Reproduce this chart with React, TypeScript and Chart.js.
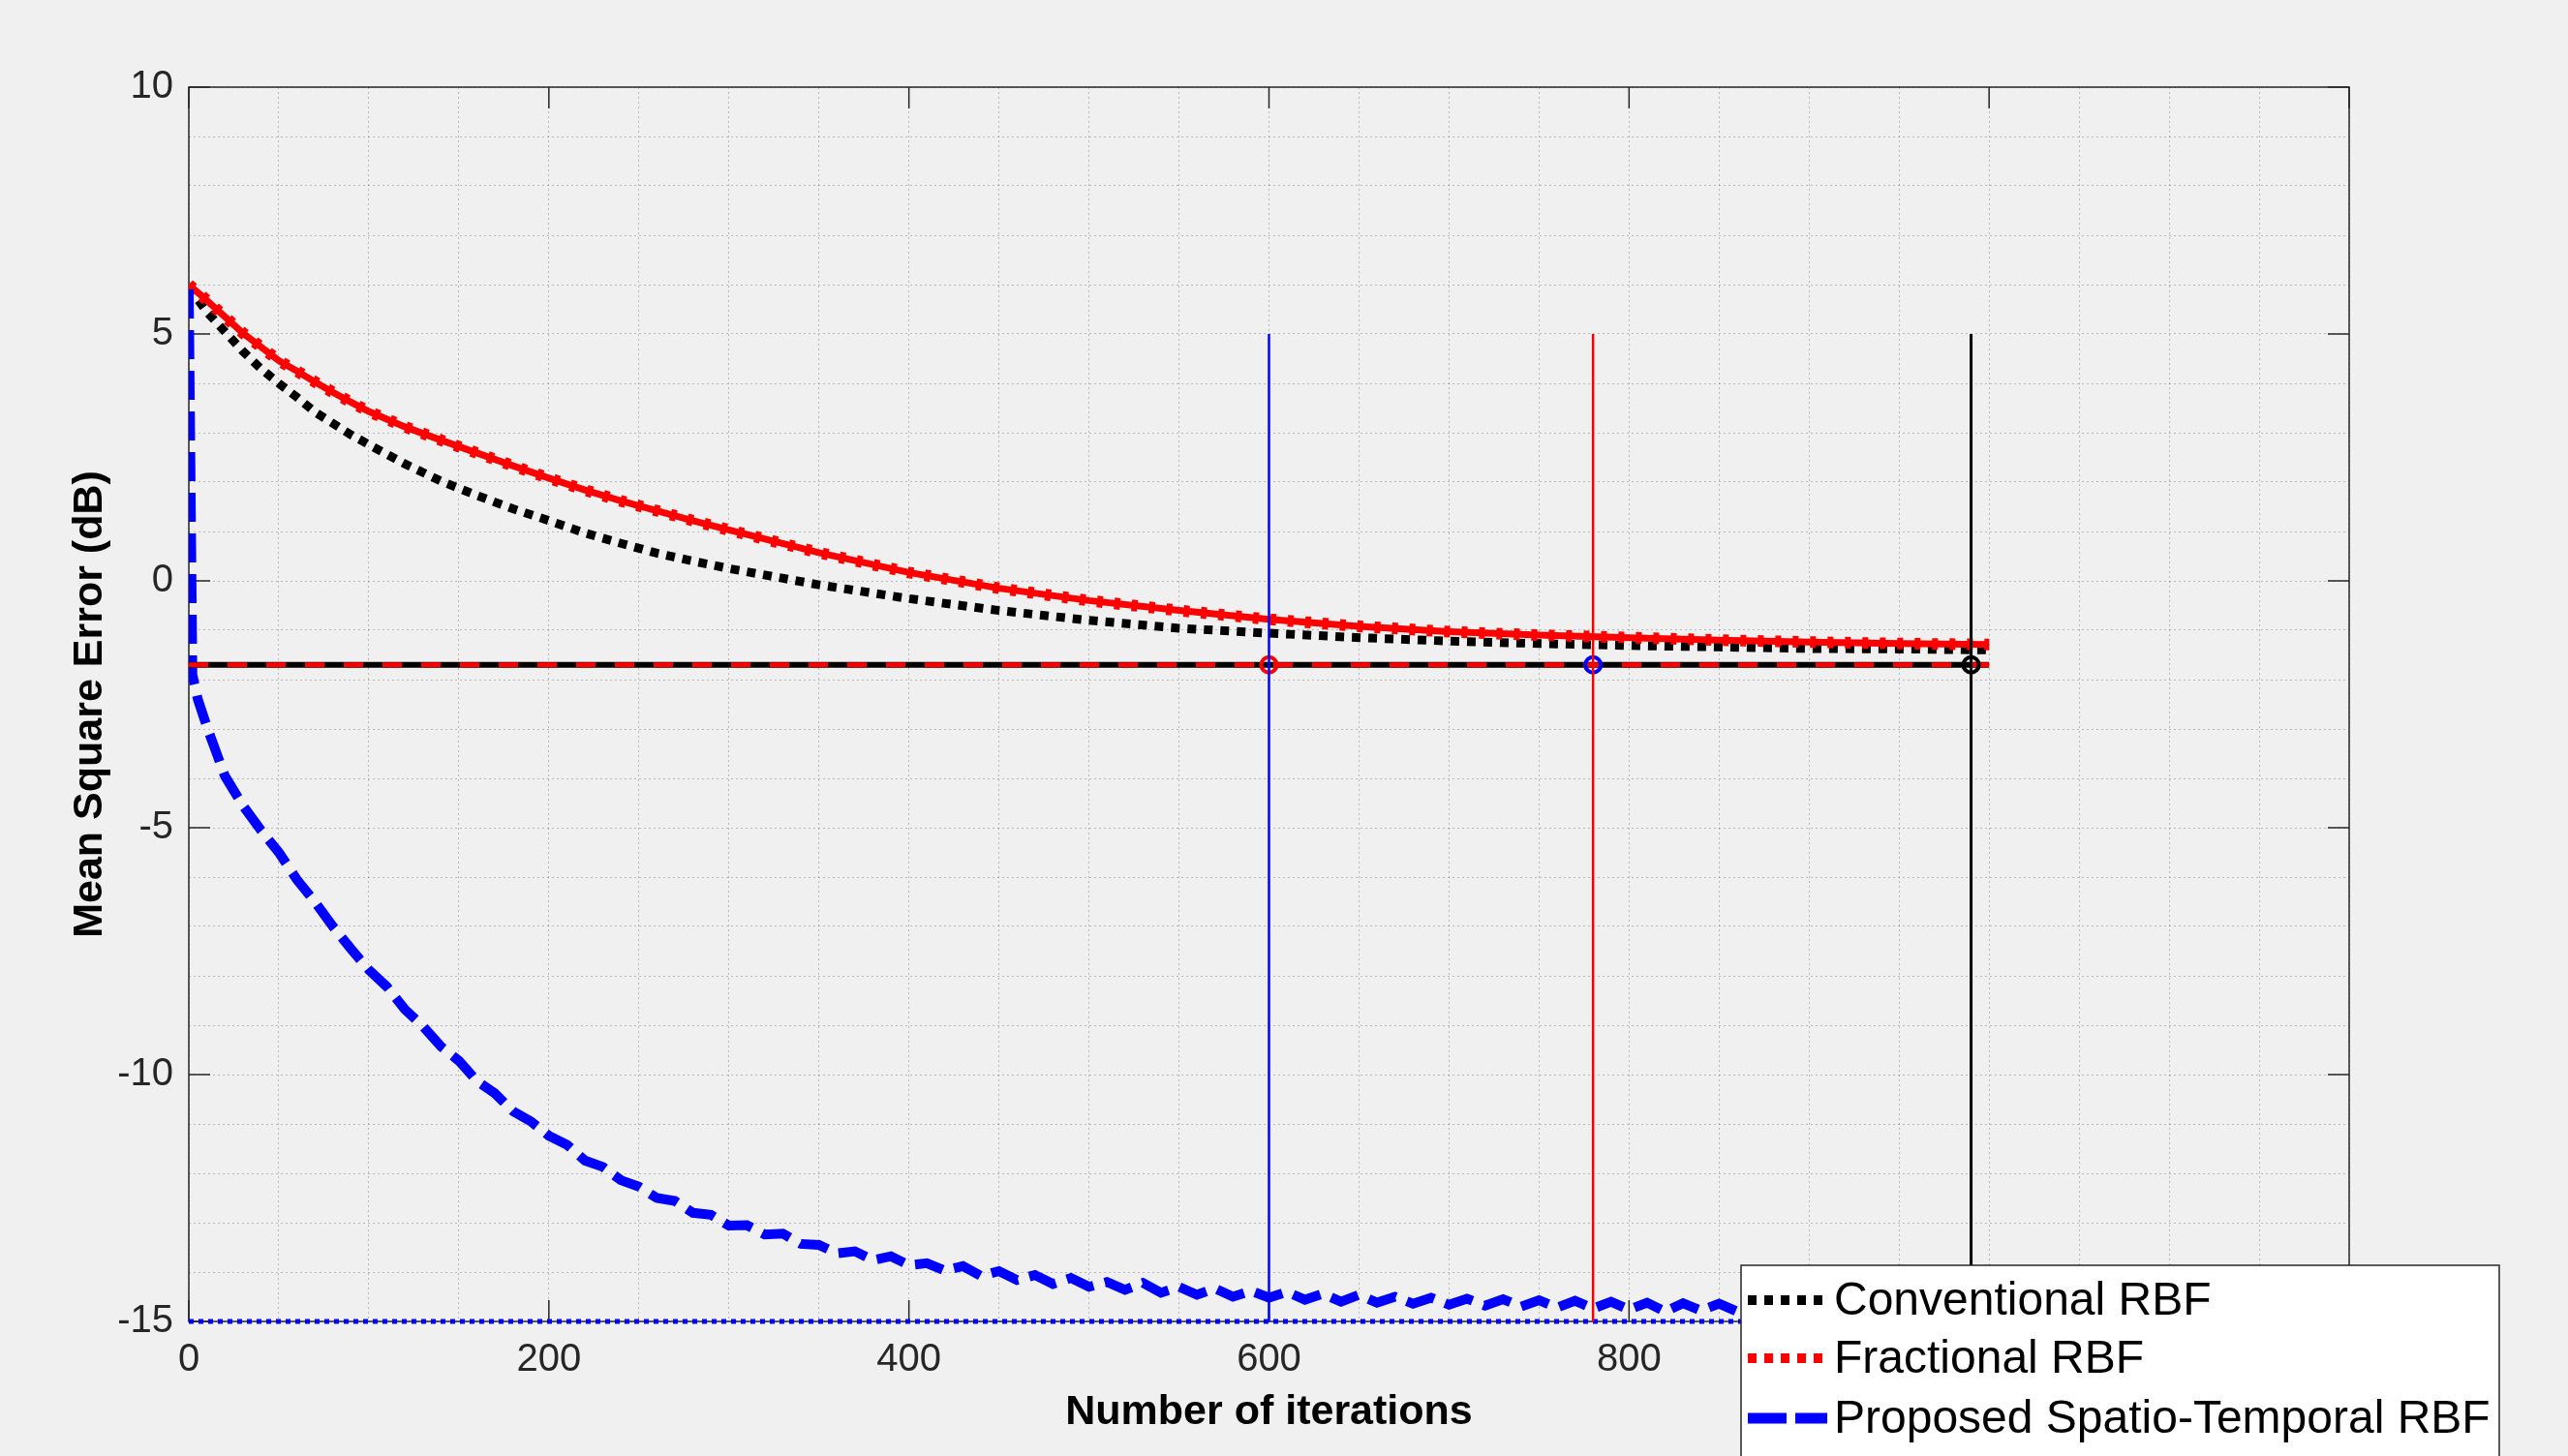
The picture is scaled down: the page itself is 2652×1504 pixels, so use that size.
import React, { useEffect, useRef } from "react";
import { Chart, registerables } from "chart.js";

Chart.register(...registerables);

// ---------------- data ----------------
const seriesLabels = ["Conventional RBF", "Fractional RBF", "Proposed Spatio-Temporal RBF"];

const convX = [0, 10, 20, 30, 40, 50, 60, 70, 80, 90, 100, 120, 140, 160, 180, 200, 220, 240, 260, 280, 300, 350, 400, 450, 500, 550, 600, 650, 700, 750, 800, 850, 900, 950, 1000];
const convY = [5.95, 5.45, 5.05, 4.65, 4.3, 4.0, 3.72, 3.42, 3.19, 2.96, 2.76, 2.37, 2.02, 1.73, 1.46, 1.22, 0.97, 0.76, 0.56, 0.4, 0.25, -0.08, -0.36, -0.6, -0.8, -0.96, -1.06, -1.15, -1.22, -1.27, -1.31, -1.34, -1.37, -1.38, -1.4];

const fracX = [0, 10, 20, 30, 40, 50, 60, 70, 80, 90, 100, 120, 140, 160, 180, 200, 220, 240, 260, 280, 300, 350, 400, 450, 500, 550, 600, 650, 700, 750, 800, 850, 900, 950, 1000];
const fracY = [6.0, 5.68, 5.35, 5.02, 4.74, 4.46, 4.25, 4.03, 3.82, 3.62, 3.43, 3.12, 2.85, 2.59, 2.33, 2.08, 1.84, 1.62, 1.42, 1.22, 1.03, 0.57, 0.17, -0.15, -0.4, -0.6, -0.78, -0.92, -1.03, -1.1, -1.15, -1.2, -1.24, -1.27, -1.29];

const propX = [0, 1, 2, 5, 10, 20, 30, 40, 50, 60, 70, 80, 90, 100, 110, 120, 130, 140, 150, 160, 170, 180, 190, 200, 210, 220, 230, 240, 250, 260, 270, 280, 290, 300, 310, 320, 330, 340, 350, 360, 370, 380, 390, 400, 410, 420, 430, 440, 450, 460, 470, 480, 490, 500, 510, 520, 530, 540, 550, 560, 570, 580, 590, 600, 610, 620, 630, 640, 650, 660, 670, 680, 690, 700, 710, 720, 730, 740, 750, 760, 770, 780, 790, 800, 810, 820, 830, 840, 850, 860, 870, 880, 890, 900, 910, 920, 930, 940, 950, 960, 970, 980, 990, 1000];
const propY = [5.9, 2.0, -1.9, -2.4, -2.95, -3.95, -4.55, -5.05, -5.5, -6.05, -6.5, -7.0, -7.45, -7.88, -8.22, -8.68, -9.02, -9.43, -9.72, -10.13, -10.38, -10.74, -10.95, -11.24, -11.42, -11.74, -11.87, -12.14, -12.27, -12.5, -12.56, -12.8, -12.84, -13.06, -13.05, -13.24, -13.22, -13.43, -13.45, -13.62, -13.58, -13.76, -13.68, -13.86, -13.82, -13.97, -13.88, -14.08, -13.98, -14.16, -14.06, -14.24, -14.12, -14.3, -14.2, -14.36, -14.22, -14.42, -14.3, -14.46, -14.33, -14.5, -14.38, -14.52, -14.4, -14.56, -14.44, -14.6, -14.46, -14.62, -14.5, -14.64, -14.52, -14.66, -14.54, -14.68, -14.55, -14.7, -14.57, -14.72, -14.58, -14.74, -14.6, -14.76, -14.62, -14.8, -14.63, -14.78, -14.64, -14.8, -14.66, -14.82, -14.67, -14.82, -14.68, -14.84, -14.7, -14.85, -14.7, -14.86, -14.72, -14.86, -14.73, -14.8];

const thresholdX = [0, 1000];
const thresholdLevel = -1.7;
const floorX = [0, 1000];
const floorLevel = -15;

const crossX = [600, 780, 990]; // iterations where each method reaches the threshold
const crossSpan = [5, -15];

const xTicks = [0, 200, 400, 600, 800, 1000, 1200];
const yTicks = [-15, -10, -5, 0, 5, 10];

// ---------------- styles ----------------
const FONT = "'Liberation Sans', Arial, Helvetica, sans-serif";
const AX = "#262626";
const BLUE = "#0000ff";
const RED = "#ff0000";
const BLACK = "#000000";

const pts = (xs: number[], ys: number[]) => xs.map((x, i) => ({ x, y: ys[i] }));
const constPts = (xs: number[], v: number) => xs.map((x) => ({ x, y: v }));
const vertPts = (x: number) => crossSpan.map((v) => ({ x, y: v }));

const lineBase = { pointRadius: 0, tension: 0, fill: false, borderCapStyle: "butt" as const, borderJoinStyle: "miter" as const };

const legendItems = [
  { label: seriesLabels[0], color: BLACK, width: 10, dash: [9, 8] },
  { label: seriesLabels[1], color: RED, width: 10, dash: [9, 8] },
  { label: seriesLabels[2], color: BLUE, width: 11, dash: [40, 9] },
];

const framePlugin = {
  id: "matlabFrame",
  beforeDatasetsDraw(chart: any) {
    const { ctx, chartArea: a, scales } = chart;
    ctx.save();
    ctx.strokeStyle = AX;
    ctx.lineWidth = 1.5;
    ctx.setLineDash([]);
    ctx.strokeRect(a.left, a.top, a.right - a.left, a.bottom - a.top);
    const tl = 22;
    ctx.beginPath();
    for (const v of xTicks) {
      const px = scales.x.getPixelForValue(v);
      ctx.moveTo(px, a.bottom); ctx.lineTo(px, a.bottom - tl);
      ctx.moveTo(px, a.top); ctx.lineTo(px, a.top + tl);
    }
    for (const v of yTicks) {
      const py = scales.y.getPixelForValue(v);
      ctx.moveTo(a.left, py); ctx.lineTo(a.left + tl, py);
      ctx.moveTo(a.right, py); ctx.lineTo(a.right - tl, py);
    }
    ctx.stroke();
    ctx.restore();
  },
  afterDraw(chart: any) {
    const { ctx } = chart;
    ctx.save();
    const bx = 1798, by = 1307, bw = 783, bh = 240;
    ctx.fillStyle = "#ffffff";
    ctx.fillRect(bx, by, bw, bh);
    ctx.strokeStyle = AX;
    ctx.lineWidth = 1.5;
    ctx.setLineDash([]);
    ctx.strokeRect(bx, by, bw, bh);
    const rows = [1343, 1403, 1465];
    legendItems.forEach((it, i) => {
      const y = rows[i];
      ctx.beginPath();
      ctx.strokeStyle = it.color;
      ctx.lineWidth = it.width;
      ctx.lineCap = "butt";
      ctx.setLineDash(it.dash);
      ctx.moveTo(1805, y);
      ctx.lineTo(1887, y);
      ctx.stroke();
      ctx.setLineDash([]);
      ctx.fillStyle = "#000000";
      ctx.font = `48px ${FONT}`;
      ctx.textAlign = "left";
      ctx.textBaseline = "middle";
      ctx.fillText(it.label, 1894, y + 2);
    });
    ctx.restore();
  },
};

export default function App() {
  const ref = useRef<HTMLCanvasElement | null>(null);

  useEffect(() => {
    const prevMargin = document.body.style.margin;
    document.body.style.margin = "0";
    const canvas = ref.current!;
    const chart = new Chart(canvas, {
      type: "line",
      data: {
        datasets: [
          { ...lineBase, label: "floor", data: constPts(floorX, floorLevel), borderColor: BLUE, borderWidth: 5, borderDash: [5, 5], order: 20, clip: false },
          { ...lineBase, label: seriesLabels[0], data: pts(convX, convY), borderColor: BLACK, borderWidth: 9, borderDash: [9, 8], order: 19 },
          { ...lineBase, label: seriesLabels[1], data: pts(fracX, fracY), borderColor: RED, borderWidth: 7, order: 18 },
          { ...lineBase, label: seriesLabels[1] + " marks", data: pts(fracX, fracY), borderColor: RED, borderWidth: 12, borderDash: [6, 12], order: 17 },
          { ...lineBase, label: seriesLabels[2], data: pts(propX, propY), borderColor: BLUE, borderWidth: 10, borderDash: [30, 12], order: 16 },
          { ...lineBase, label: "threshold", data: constPts(thresholdX, thresholdLevel), borderColor: BLACK, borderWidth: 6, order: 15 },
          { ...lineBase, label: "threshold dashes", data: constPts(thresholdX, thresholdLevel), borderColor: RED, borderWidth: 5, borderDash: [20, 20], order: 14 },
          { ...lineBase, label: "conv mark", data: [{ x: crossX[2], y: thresholdLevel }], showLine: false, pointRadius: 8, pointBorderWidth: 4, pointBorderColor: BLACK, pointBackgroundColor: "rgba(0,0,0,0)", order: 13 },
          { ...lineBase, label: "frac mark", data: [{ x: crossX[1], y: thresholdLevel }], showLine: false, pointRadius: 8, pointBorderWidth: 4, pointBorderColor: BLUE, pointBackgroundColor: "rgba(0,0,0,0)", order: 12 },
          { ...lineBase, label: "prop mark", data: [{ x: crossX[0], y: thresholdLevel }], showLine: false, pointRadius: 8, pointBorderWidth: 4, pointBorderColor: RED, pointBackgroundColor: "rgba(0,0,0,0)", order: 11 },
          { ...lineBase, label: "prop cross", data: vertPts(crossX[0]), borderColor: BLUE, borderWidth: 2.5, order: 3 },
          { ...lineBase, label: "frac cross", data: vertPts(crossX[1]), borderColor: RED, borderWidth: 2.5, order: 2 },
          { ...lineBase, label: "conv cross", data: vertPts(crossX[2]), borderColor: BLACK, borderWidth: 3, order: 1 },
        ],
      },
      options: {
        animation: false,
        responsive: false,
        devicePixelRatio: 1,
        parsing: false as any,
        layout: { padding: { left: 0, top: 90, right: 226, bottom: 0 } },
        plugins: { legend: { display: false }, tooltip: { enabled: false } },
        scales: {
          x: {
            type: "linear",
            min: 0,
            max: 1200,
            afterFit: (s: any) => { s.height = 139; },
            grid: { color: "rgba(38,38,38,0.28)", lineWidth: 1, drawTicks: false },
            border: { display: false, dash: [2, 3] },
            ticks: {
              stepSize: 50,
              autoSkip: false,
              maxRotation: 0,
              padding: 16,
              color: AX,
              font: { family: FONT, size: 40 },
              callback: (v: any) => { const n = Math.round(Number(v)); return xTicks.includes(n) ? String(n) : ""; },
            },
            title: { display: true, text: "Number of iterations", color: "#000", font: { family: FONT, size: 43, weight: "bold" }, padding: { top: 0, bottom: 19 } },
          },
          y: {
            type: "linear",
            min: -15,
            max: 10,
            afterFit: (s: any) => { s.width = 195; },
            grid: { color: "rgba(38,38,38,0.28)", lineWidth: 1, drawTicks: false },
            border: { display: false, dash: [2, 3] },
            ticks: {
              stepSize: 1,
              autoSkip: false,
              padding: 16,
              color: AX,
              font: { family: FONT, size: 40 },
              callback: (v: any) => { const n = Math.round(Number(v)); return yTicks.includes(n) ? String(n) : ""; },
            },
            title: { display: true, text: "Mean Square Error (dB)", color: "#000", font: { family: FONT, size: 43, weight: "bold" }, padding: { top: 67, bottom: 0 } },
          },
        },
      },
      plugins: [framePlugin],
    } as any);
    return () => {
      chart.destroy();
      document.body.style.margin = prevMargin;
    };
  }, []);

  return (
    <div style={{ position: "fixed", left: 0, top: 0, width: 2652, height: 1504, background: "#f0f0f0", overflow: "hidden" }}>
      <canvas ref={ref} width={2652} height={1504} style={{ display: "block", width: 2652, height: 1504 }} />
    </div>
  );
}
